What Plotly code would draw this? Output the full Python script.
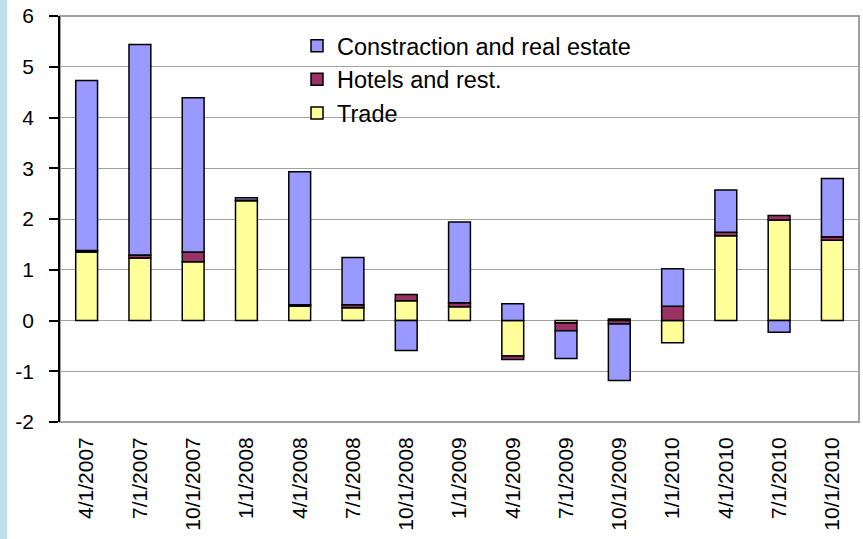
import plotly.graph_objects as go

categories = ["4/1/2007", "7/1/2007", "10/1/2007", "1/1/2008", "4/1/2008", "7/1/2008",
              "10/1/2008", "1/1/2009", "4/1/2009", "7/1/2009", "10/1/2009", "1/1/2010",
              "4/1/2010", "7/1/2010", "10/1/2010"]
trade = [1.35, 1.23, 1.16, 2.36, 0.28, 0.25, 0.39, 0.27, -0.70, -0.05, 0.03, -0.44, 1.67, 1.98, 1.58]
hotels = [0.03, 0.06, 0.19, 0.01, 0.03, 0.06, 0.12, 0.08, -0.07, -0.15, -0.07, 0.28, 0.07, 0.09, 0.07]
construction = [3.35, 4.15, 3.04, 0.05, 2.62, 0.93, -0.59, 1.59, 0.33, -0.55, -1.11, 0.74, 0.83, -0.23, 1.15]

y_ticks = [-2, -1, 0, 1, 2, 3, 4, 5, 6]
y_ticktext = [str(v) for v in y_ticks]

W, H = 863, 539
ML, MR, MT, MB = 60, 4, 16, 117
PW, PH = W - ML - MR, H - MT - MB

FONT = "'Liberation Sans', Arial, sans-serif"
line = dict(color="black", width=1.5)

fig = go.Figure()
fig.add_trace(go.Bar(x=categories, y=trade, name="Trade", legendrank=3,
                     marker=dict(color="#FFFF99", line=line)))
fig.add_trace(go.Bar(x=categories, y=hotels, name="Hotels and rest.", legendrank=2,
                     marker=dict(color="#993366", line=line)))
fig.add_trace(go.Bar(x=categories, y=construction, name="Constraction and real estate", legendrank=1,
                     marker=dict(color="#9999FF", line=line)))

n = len(categories)
fig.update_layout(
    width=W, height=H,
    margin=dict(l=ML, r=MR, t=MT, b=MB, pad=0),
    barmode="relative", bargap=0.59,
    paper_bgcolor="white", plot_bgcolor="white",
    font=dict(family=FONT, color="black", size=21),
    showlegend=True,
    legend=dict(x=(297 - ML) / PW, xanchor="left", y=1 - (24 - MT) / PH, yanchor="top",
                bgcolor="rgba(255,255,255,0)", borderwidth=0, font=dict(size=23.5),
                traceorder="normal"),
    xaxis=dict(type="category", categoryorder="array", categoryarray=categories,
               range=[-0.5, n - 0.5], tickangle=-90, ticks="", showgrid=False,
               showline=False, zeroline=False, tickfont=dict(size=21), ticklabelstandoff=10),
    xaxis2=dict(overlaying="x", anchor="free", position=0.25, range=[-0.5, n - 0.5],
                tickvals=[i - 0.5 for i in range(n + 1)], showticklabels=False,
                ticks="outside", ticklen=8, tickwidth=1.5, tickcolor="black",
                showline=True, linecolor="black", linewidth=1.5, showgrid=False, zeroline=False),
    yaxis=dict(range=[y_ticks[0], y_ticks[-1]], tickvals=y_ticks, ticktext=y_ticktext, showgrid=True,
               gridcolor="#a0a0a0", gridwidth=1, zeroline=False, showline=True,
               linecolor="black", linewidth=1.5, ticks="outside", ticklen=9,
               tickwidth=1.5, tickcolor="black", ticklabelstandoff=11, tickfont=dict(size=21)),
    shapes=[
        dict(type="rect", xref="paper", yref="paper", x0=0, x1=1, y0=0, y1=1,
             line=dict(color="#a0a0a0", width=2), fillcolor="rgba(0,0,0,0)", layer="below"),
        dict(type="rect", xref="paper", yref="paper", x0=(280 - ML) / PW, x1=(660 - ML) / PW,
             y0=1 - (150 - MT) / PH, y1=1 - (20 - MT) / PH, line=dict(width=0),
             fillcolor="white", layer="between"),
        dict(type="rect", xref="paper", yref="paper", x0=-ML / PW, x1=(7 - ML) / PW,
             y0=-MB / PH, y1=1 + MT / PH, line=dict(width=0), fillcolor="#bfe2ea", layer="below"),
    ],
)

fig.write_html("out.html")
